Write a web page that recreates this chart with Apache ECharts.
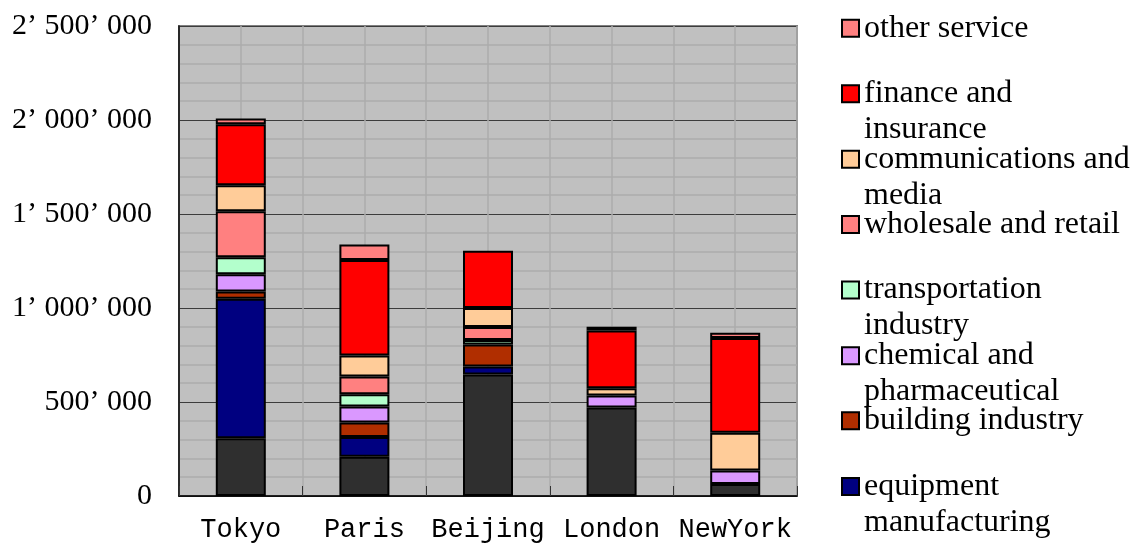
<!DOCTYPE html>
<html>
<head>
<meta charset="utf-8">
<script src="https://cdn.jsdelivr.net/npm/echarts@6/dist/echarts.min.js"></script>
<style>
  html, body { margin: 0; padding: 0; background: #ffffff; }
  #chart { width: 1132px; height: 544px; }
</style>
</head>
<body>
<div id="chart"></div>
<script>
// Cities on the category axis
const cities = ['Tokyo', 'Paris', 'Beijing', 'London', 'NewYork'];

// Employment by sector, stacked from the bottom of each bar upwards
const otherIndustry          = [307000, 209000, 646000, 471000,  64000];
const equipmentManufacturing = [742000, 105000,  43000,   null,   null];
const buildingIndustry       = [ 39000,  77000, 117000,   null,   null];
const chemicalPharma         = [ 92000,  85000,   null,  64000,  72000];
const transportation         = [ 90000,  65000,  24000,   null,   null];
const wholesaleRetail        = [245000,  94000,  69000,   null,   null];
const communicationsMedia    = [138000, 113000, 101000,  38000, 201000];
const financeInsurance       = [325000, 507000, 305000, 307000, 503000];
const otherService           = [ 30000,  83000,   null,  20000,  29000];

// Value axis ticks
const yTicks = [0, 500000, 1000000, 1500000, 2000000, 2500000];

// Series names (bottom to top) and the legend wording for each
const seriesNames = [
  'other industry', 'equipment manufacturing', 'building industry',
  'chemical and pharmaceutical', 'transportation industry',
  'wholesale and retail', 'communications and media',
  'finance and insurance', 'other service'
];
const legendLines = {
  'other service': ['other service'],
  'finance and insurance': ['finance and', 'insurance'],
  'communications and media': ['communications and', 'media'],
  'wholesale and retail': ['wholesale and retail'],
  'transportation industry': ['transportation', 'industry'],
  'chemical and pharmaceutical': ['chemical and', 'pharmaceutical'],
  'building industry': ['building industry'],
  'equipment manufacturing': ['equipment', 'manufacturing']
};
const legendOrder = [
  'other service', 'finance and insurance', 'communications and media',
  'wholesale and retail', 'transportation industry',
  'chemical and pharmaceutical', 'building industry', 'equipment manufacturing'
];

const seriesData = [
  otherIndustry, equipmentManufacturing, buildingIndustry, chemicalPharma,
  transportation, wholesaleRetail, communicationsMedia, financeInsurance, otherService
];
const seriesColors = [
  '#2f2f2f', '#000080', '#b02e00', '#da98ff', '#b3ffcc',
  '#ff8080', '#ffcc99', '#ff0000', '#ff8080'
];

// Thousands grouped with a closing quote and a space: 2’ 500’ 000
function groupDigits(v) {
  const s = String(Math.round(v));
  const parts = [];
  for (let i = s.length; i > 0; i -= 3) parts.unshift(s.slice(Math.max(0, i - 3), i));
  return parts.join('\u2019 ');
}

const series = seriesNames.map((name, i) => ({
  name: name,
  type: 'bar',
  stack: 'total',
  barWidth: 50,
  data: seriesData[i],
  itemStyle: { color: seriesColors[i], borderColor: '#000000', borderWidth: 2 },
  emphasis: { disabled: true }
}));

// Vertical positions of the legend swatch centres
const LINE_H = 36;
const legendCentres = [28.3, 93.7, 159.2, 224.5, 290, 355.7, 420.7, 486.5];

// Wrapped entries get a blank leading line so that the first line of
// text sits level with the swatch and the rest hangs below it.
const legends = legendOrder.map((name, i) => {
  const wrapped = legendLines[name].length > 1;
  return {
    orient: 'vertical',
    left: 841,
    top: legendCentres[i] - (wrapped ? LINE_H * 1.5 : LINE_H / 2),
    padding: 0,
    itemWidth: 17,
    itemHeight: 17,
    icon: 'rect',
    selectedMode: false,
    itemStyle: { borderColor: '#000000', borderWidth: 2 },
    textStyle: {
      fontFamily: 'Liberation Serif',
      fontSize: 32,
      color: '#000000',
      lineHeight: LINE_H
    },
    formatter: n => (legendLines[n].length > 1 ? '\n' : '') + legendLines[n].join('\n'),
    data: [name]
  };
});

const chart = echarts.init(document.getElementById('chart'), null, { renderer: 'canvas' });
chart.setOption({
  animation: false,
  backgroundColor: '#ffffff',
  grid: {
    left: 179, right: 335, top: 26, bottom: 48,
    show: true,
    backgroundColor: '#c0c0c0',
    borderColor: '#808080',
    borderWidth: 2,
    outerBoundsMode: 'none',
    containLabel: false
  },
  legend: legends,
  xAxis: [
    {
      type: 'category',
      data: cities,
      boundaryGap: true,
      axisLine: { show: true, lineStyle: { color: '#000000', width: 1.5 } },
      axisTick: { show: true, inside: true, length: 10, lineStyle: { color: '#333333', width: 1 } },
      axisLabel: {
        interval: 0,
        fontFamily: 'Liberation Mono',
        fontSize: 27,
        color: '#000000',
        margin: 20
      },
      splitLine: { show: false }
    },
    {
      // helper axis giving a light vertical rule at every half category
      type: 'value',
      position: 'top',
      min: 0, max: 10, interval: 1,
      axisLine: { show: false },
      axisTick: { show: false },
      axisLabel: { show: false },
      splitLine: { show: true, lineStyle: { color: '#acacac', width: 1.5 } }
    }
  ],
  yAxis: {
    type: 'value',
    min: yTicks[0],
    max: yTicks[yTicks.length - 1],
    interval: yTicks[1] - yTicks[0],
    axisLine: { show: true, lineStyle: { color: '#000000', width: 1.5 } },
    axisTick: { show: false },
    axisLabel: {
      fontFamily: 'Liberation Serif',
      fontSize: 30,
      color: '#000000',
      margin: 27,
      formatter: v => groupDigits(v)
    },
    splitLine: { show: true, lineStyle: { color: '#3c3c3c', width: 1 } },
    minorTick: { show: false, splitNumber: 5 },
    minorSplitLine: { show: true, lineStyle: { color: '#acacac', width: 1.5 } }
  },
  series: series
});
</script>
</body>
</html>
